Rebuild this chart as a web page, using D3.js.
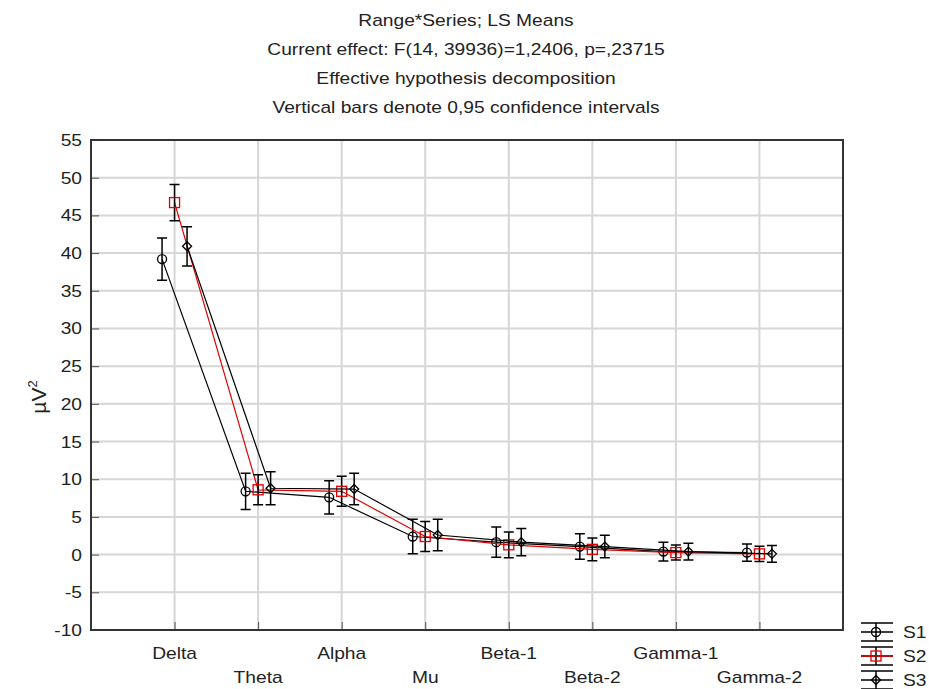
<!DOCTYPE html>
<html>
<head>
<meta charset="utf-8">
<script src="https://cdn.jsdelivr.net/npm/d3@7"></script>
<style>
  html, body { margin: 0; padding: 0; background: #fff; }
  svg { display: block; font-family: "Liberation Sans", Arial, sans-serif; }
</style>
</head>
<body>
<svg id="chart" width="929" height="689"></svg>
<script>
// Frequency ranges on the x axis
const ranges = ["Delta", "Theta", "Alpha", "Mu", "Beta-1", "Beta-2", "Gamma-1", "Gamma-2"];
const seriesNames = ["S1", "S2", "S3"];

// LS means per series (µV²)
const s1Means = [39.2, 8.4, 7.6, 2.4, 1.65, 1.07, 0.4, 0.27];
const s2Means = [46.7, 8.6, 8.4, 2.4, 1.3, 0.7, 0.27, 0.1];
const s3Means = [40.9, 8.8, 8.7, 2.6, 1.65, 1.07, 0.4, 0.1];

// Half-widths of the 0.95 confidence intervals
const s1Ci = [2.8, 2.4, 2.2, 2.3, 2.0, 1.7, 1.25, 1.15];
const s2Ci = [2.4, 2.0, 2.0, 2.0, 1.7, 1.5, 1.0, 1.0];
const s3Ci = [2.6, 2.2, 2.1, 2.1, 1.8, 1.5, 1.1, 1.1];

const yTicks = [-10, -5, 0, 5, 10, 15, 20, 25, 30, 35, 40, 45, 50, 55];

const titleLines = [
  "Range*Series; LS Means",
  "Current effect: F(14, 39936)=1,2406, p=,23715",
  "Effective hypothesis decomposition",
  "Vertical bars denote 0,95 confidence intervals"
];

const series = [
  { name: seriesNames[0], means: s1Means, ci: s1Ci, color: "#000", marker: "circle", offset: -12.5 },
  { name: seriesNames[1], means: s2Means, ci: s2Ci, color: "#e00000", marker: "square", offset: 0 },
  { name: seriesNames[2], means: s3Means, ci: s3Ci, color: "#000", marker: "diamond", offset: 12.5 }
];

const svg = d3.select("#chart");
const plot = { left: 91, right: 843, top: 140, bottom: 630 };
const textColor = "#222";
const stretch = 1.2;   // wide, Statistica-style lettering

const x = d3.scalePoint().domain(ranges).range([plot.left, plot.right]).padding(1);
const y = d3.scaleLinear().domain([-10, 55]).range([plot.bottom, plot.top]);

// Places a horizontally widened text label at (px, py)
function label(sel, px, py) {
  return sel.attr("x", 0).attr("y", 0)
    .attr("transform", (d, i) => `translate(${px(d, i)},${py(d, i)}) scale(${stretch},1)`);
}

// Title block
label(svg.append("g").selectAll("text").data(titleLines).join("text"),
      () => 466, (d, i) => 26 + i * 29)
  .attr("text-anchor", "middle").attr("font-size", 16).attr("fill", textColor)
  .text(d => d);

// Grid lines
const grid = svg.append("g").attr("stroke", "#d6d6d6").attr("stroke-width", 2);
grid.selectAll("line.h").data(yTicks.slice(1, -1)).join("line")
  .attr("x1", plot.left).attr("x2", plot.right)
  .attr("y1", d => y(d)).attr("y2", d => y(d));
grid.selectAll("line.v").data(ranges).join("line")
  .attr("x1", d => x(d)).attr("x2", d => x(d))
  .attr("y1", plot.top).attr("y2", plot.bottom);

// Y axis: ticks pointing into the plot, labels on the left
const yAxis = svg.append("g").attr("transform", `translate(${plot.left},0)`)
  .call(d3.axisRight(y).tickValues(yTicks).tickSize(8).tickFormat(""));
yAxis.select(".domain").remove();
yAxis.selectAll(".tick line").attr("stroke", "#555");
label(svg.append("g").selectAll("text").data(yTicks).join("text"),
      () => 82, d => y(d) + 6)
  .attr("text-anchor", "end").attr("font-size", 16).attr("fill", textColor)
  .text(d => d);

// X axis: ticks pointing into the plot, labels in two staggered rows
const xAxis = svg.append("g").attr("transform", `translate(0,${plot.bottom})`)
  .call(d3.axisTop(x).tickSize(8).tickFormat(""));
xAxis.select(".domain").remove();
xAxis.selectAll(".tick line").attr("stroke", "#555");
label(svg.append("g").selectAll("text").data(ranges).join("text"),
      d => x(d), (d, i) => i % 2 === 0 ? 659 : 683)
  .attr("text-anchor", "middle").attr("font-size", 16).attr("fill", textColor)
  .text(d => d);

// Y axis title: µV²
const yTitle = svg.append("text")
  .attr("transform", "translate(46,397) rotate(-90)")
  .attr("text-anchor", "middle").attr("font-size", 21).attr("fill", textColor);
yTitle.append("tspan").text("µV");
yTitle.append("tspan").attr("dy", -9).attr("font-size", 13).text("2");

// Plot frame
svg.append("rect")
  .attr("x", plot.left).attr("y", plot.top)
  .attr("width", plot.right - plot.left).attr("height", plot.bottom - plot.top)
  .attr("fill", "none").attr("stroke", "#333").attr("stroke-width", 2);

function drawMarker(g, type, color, cx, cy) {
  if (type === "circle") {
    g.append("circle").attr("cx", cx).attr("cy", cy).attr("r", 4.5)
      .attr("fill", "none").attr("stroke", color).attr("stroke-width", 1.3);
  } else if (type === "square") {
    g.append("rect").attr("x", cx - 5).attr("y", cy - 5).attr("width", 10).attr("height", 10)
      .attr("fill", "none").attr("stroke", color).attr("stroke-width", 1.3);
  } else {
    g.append("path")
      .attr("d", `M${cx},${cy - 4.5}L${cx + 4.5},${cy}L${cx},${cy + 4.5}L${cx - 4.5},${cy}Z`)
      .attr("fill", "none").attr("stroke", color).attr("stroke-width", 1.3);
  }
}

const marks = svg.append("g");
const capW = 5;
series.forEach(s => {
  const g = marks.append("g");
  const px = i => x(ranges[i]) + s.offset;
  // Connecting line
  g.append("path")
    .datum(s.means)
    .attr("fill", "none").attr("stroke", s.color).attr("stroke-width", 1.2)
    .attr("d", d3.line().x((d, i) => px(i)).y(d => y(d)));
  // Confidence intervals
  s.means.forEach((m, i) => {
    const cx = px(i), lo = y(m - s.ci[i]), hi = y(m + s.ci[i]);
    g.append("path")
      .attr("d", `M${cx},${hi}V${lo}M${cx - capW},${hi}H${cx + capW}M${cx - capW},${lo}H${cx + capW}`)
      .attr("fill", "none").attr("stroke", "#000").attr("stroke-width", 1.5);
    drawMarker(g, s.marker, s.color, cx, y(m));
  });
});

// Legend
const legend = svg.append("g");
series.forEach((s, i) => {
  const cy = 632 + i * 24;
  const g = legend.append("g");
  g.append("path")
    .attr("d", `M861,${cy - 9}H893M861,${cy}H893M861,${cy + 9}H893M876,${cy - 9}V${cy + 9}`)
    .attr("stroke", "#000").attr("stroke-width", 1.5).attr("fill", "none");
  if (s.color !== "#000") {
    g.append("line").attr("x1", 861).attr("x2", 893).attr("y1", cy).attr("y2", cy)
      .attr("stroke", s.color).attr("stroke-width", 1.5);
  }
  drawMarker(g, s.marker, s.color, 876, cy);
  label(g.append("text").datum(s.name), () => 903, () => cy + 6)
    .attr("font-size", 16).attr("fill", textColor).text(d => d);
});
</script>
</body>
</html>
